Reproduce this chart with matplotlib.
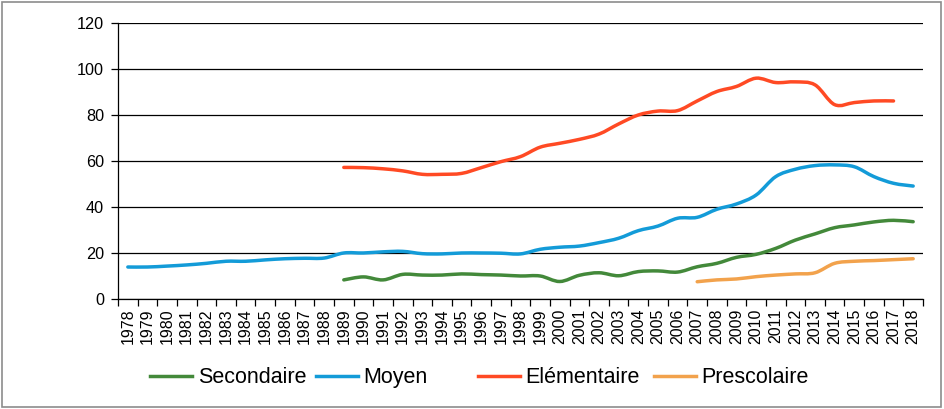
import numpy as np
import matplotlib.pyplot as plt
import matplotlib.patches as patches
from matplotlib.path import Path
from matplotlib.lines import Line2D

plt.rcParams['font.family'] = ['Liberation Sans', 'DejaVu Sans']

years = list(range(1978, 2019))

# Secondaire from 1989
secondaire_years = list(range(1989, 2019))
secondaire = [8.3, 9.6, 8.3, 10.7, 10.4, 10.4, 10.9, 10.6, 10.4, 10.0,
              10.0, 7.6, 10.3, 11.4, 10.1, 11.9, 12.2, 11.7, 14.0, 15.5,
              18.1, 19.4, 22.0, 25.6, 28.3, 31.0, 32.2, 33.5, 34.2, 33.6]

# Moyen from 1978
moyen_years = list(range(1978, 2019))
moyen = [13.9, 13.9, 14.3, 14.8, 15.5, 16.4, 16.4, 17.0, 17.5, 17.7,
         17.8, 20.0, 20.0, 20.5, 20.7, 19.7, 19.6, 20.0, 20.0, 19.9,
         19.6, 21.6, 22.5, 23.0, 24.5, 26.4, 29.7, 31.7, 35.1, 35.5,
         39.0, 41.3, 45.2, 53.2, 56.4, 58.0, 58.3, 57.5, 53.2, 50.3, 49.1]

# Elementaire 1989-2017
elementaire_years = list(range(1989, 2018))
elementaire = [57.2, 57.1, 56.6, 55.7, 54.2, 54.2, 54.6, 57.1, 59.7, 61.9,
               66.0, 67.7, 69.4, 71.7, 76.1, 80.0, 81.7, 81.9, 86.1, 90.2,
               92.4, 96.0, 94.1, 94.4, 93.1, 84.5, 85.4, 86.1, 86.1]

# Prescolaire from 2007
prescolaire_years = list(range(2007, 2019))
prescolaire = [7.5, 8.3, 8.7, 9.7, 10.4, 10.9, 11.4, 15.5, 16.4, 16.7, 17.1, 17.5]

series = [
    ("Secondaire", secondaire_years, secondaire, "#43893A"),
    ("Moyen", moyen_years, moyen, "#139BD8"),
    ("Elémentaire", elementaire_years, elementaire, "#FF4A24"),
    ("Prescolaire", prescolaire_years, prescolaire, "#F2A24C"),
]
# left edge of each legend entry (figure fraction)
legend_x = [0.159, 0.334, 0.506, 0.692]


def smooth_path(xs, ys):
    # bezier segments, control points like Excel smoothed lines
    pts = np.column_stack([xs, ys]).astype(float)
    n = len(pts)
    verts = [pts[0]]
    codes = [Path.MOVETO]
    for i in range(n - 1):
        p0 = pts[i - 1] if i > 0 else pts[i]
        p1 = pts[i]
        p2 = pts[i + 1]
        p3 = pts[i + 2] if i + 2 < n else pts[i + 1]
        c1 = p1 + (p2 - p0) / 6.0
        c2 = p2 - (p3 - p1) / 6.0
        verts += [c1, c2, p2]
        codes += [Path.CURVE4] * 3
    return Path(verts, codes)


fig = plt.figure(figsize=(9.45, 4.09), dpi=100)
ax = fig.add_axes([0.1249, 0.269, 0.8518, 0.6748])

for (name, yrs, vals, color), lx in zip(series, legend_x):
    xs = [years.index(y) for y in yrs]
    path = smooth_path(xs, vals)
    ax.add_patch(patches.PathPatch(path, facecolor='none', edgecolor=color,
                                   lw=2.5, capstyle='round', joinstyle='round'))
    h = Line2D([], [], color=color, lw=2.5, label=name)
    fig.legend(handles=[h], loc='center left', bbox_to_anchor=(lx, 0.076),
               frameon=False, fontsize=15.5, handlelength=1.95, handletextpad=0.25,
               borderpad=0, borderaxespad=0)

ax.set_xlim(-0.5, len(years) - 0.5)
ax.set_ylim(0, 120)
ax.set_yticks(range(0, 121, 20))
ax.yaxis.grid(True, color='black', lw=0.9)
ax.set_axisbelow(True)

ax.set_xticks(np.arange(-0.5, len(years), 1.0))
ax.set_xticklabels([])
ax.set_xticks(range(len(years)), minor=True)
ax.set_xticklabels([str(y) for y in years], minor=True, rotation=90, fontsize=11.5)
ax.tick_params(axis='x', which='major', length=5, width=0.9, direction='out', color='black')
ax.tick_params(axis='x', which='minor', length=0, pad=7)
ax.tick_params(axis='y', length=5, width=0.9, labelsize=11.7, pad=5)

for s in ['top', 'right']:
    ax.spines[s].set_visible(False)
for s in ['left', 'bottom']:
    ax.spines[s].set_color('black')
    ax.spines[s].set_linewidth(0.9)

fig.patches.append(patches.Rectangle((0.002, 0.004), 0.994, 0.992, transform=fig.transFigure,
                                     fill=False, edgecolor='#8c8c8c', lw=1.2))

fig.savefig("out.png", dpi=100)
